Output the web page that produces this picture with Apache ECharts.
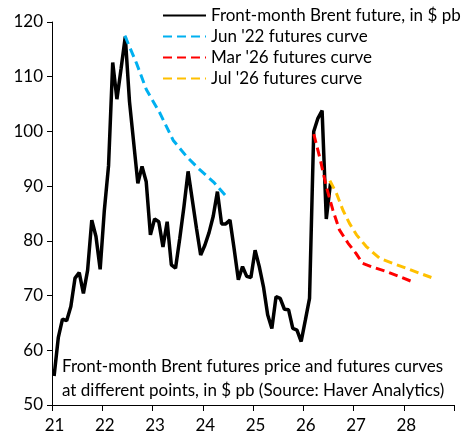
<!DOCTYPE html>
<html>
<head>
<meta charset="utf-8">
<script src="https://cdn.jsdelivr.net/npm/echarts@6/dist/echarts.min.js"></script>
<style>
  html, body { margin: 0; padding: 0; background: #fff; }
  #main { width: 470px; height: 440px; }
</style>
</head>
<body>
<div id="main"></div>
<script>
// front-month Brent, monthly averages Jan 2021 .. Jul 2026 ($ pb)
const brentStart = 2021
const brent = [
  55.3, 62.3, 65.7, 65.4, 68.0, 73.2, 74.2, 70.4, 74.6, 83.8, 80.8, 74.8,
  85.6, 93.7, 112.6, 105.9, 111.5, 117.3, 105.5, 98.0, 90.5, 93.6, 90.8, 81.1,
  84.0, 83.5, 78.9, 83.5, 75.6, 75.0, 80.4, 86.2, 92.7, 87.5, 82.3, 77.4,
  79.2, 81.5, 84.5, 89.0, 83.1, 83.1, 83.8, 78.5, 72.9, 75.3, 73.5, 73.3,
  78.3, 75.3, 71.6, 66.5, 64.0, 69.8, 69.5, 67.5, 67.4, 64.0, 63.7, 61.6,
  65.5, 69.5, 100.0, 102.4, 103.8, 84.0, 90.5
]

// futures curves: contract date (years, 21 = 2021) and price
const jun22X = [22.45, 22.68, 22.88, 23.15, 23.41, 23.68, 23.94, 24.21, 24.47]
const jun22Y = [117.5, 112.5, 107.6, 103.3, 98.4, 95.4, 93.0, 90.8, 88.1]

const mar26X = [26.21, 26.34, 26.46, 26.59, 26.72, 26.89, 27.05, 27.18, 27.38, 27.65, 27.91, 28.18]
const mar26Y = [99.5, 94.8, 89.9, 85.6, 82.0, 79.6, 77.7, 75.9, 75.2, 74.4, 73.5, 72.5]

const jul26X = [26.53, 26.66, 26.79, 26.92, 27.06, 27.25, 27.52, 27.78, 28.05, 28.31, 28.55]
const jul26Y = [91.0, 88.7, 85.6, 83.2, 81.1, 79.0, 76.8, 75.9, 75.0, 74.1, 73.3]

const names = [
  'Front-month Brent future, in $ pb',
  "Jun '22 futures curve",
  "Mar '26 futures curve",
  "Jul '26 futures curve"
]
const note = 'Front-month Brent futures price and futures curves\nat different points, in $ pb (Source: Haver Analytics)'

const pair = (xs, ys) => xs.map((x, i) => [x, ys[i]])
const brentData = brent.map((v, i) => [brentStart - 2000 + (i + 0.5) / 12, v])

const font = 'Lato'
const myChart = echarts.init(document.getElementById('main'))

const dashed = (name, color, data) => ({
  name: name,
  type: 'line',
  data: data,
  symbol: 'none',
  lineStyle: { color: color, width: 3, type: [9, 5] },
  itemStyle: { color: color },
  z: 3
})

const option = {
  animation: false,
  backgroundColor: '#fff',
  textStyle: { fontFamily: font },
  title: {
    text: note,
    left: 62,
    top: 355,
    padding: 0,
    textStyle: { fontFamily: font, fontSize: 17, fontWeight: 'normal', color: '#000', lineHeight: 24 }
  },
  legend: {
    orient: 'vertical',
    left: 162,
    top: 5,
    padding: 0,
    itemWidth: 43,
    itemHeight: 14,
    itemGap: 0,
    itemStyle: { opacity: 0 },
    data: names,
    textStyle: { fontFamily: font, fontSize: 17, color: '#000', lineHeight: 21 }
  },
  grid: { left: 52, right: 16, top: 22, bottom: 35, containLabel: false },
  xAxis: {
    type: 'value',
    min: 21,
    max: 29,
    interval: 1,
    axisLine: { lineStyle: { color: '#000', width: 1 } },
    axisTick: { length: 6, lineStyle: { color: '#000' } },
    axisLabel: {
      color: '#000',
      fontSize: 17,
      fontFamily: font,
      margin: 12,
      padding: [0, 0, 0, 5],
      formatter: v => (v === 29 ? '' : String(v))
    },
    splitLine: { show: false }
  },
  yAxis: {
    type: 'value',
    min: 50,
    max: 120,
    interval: 10,
    axisLine: { show: true, lineStyle: { color: '#000', width: 1 } },
    axisTick: { show: true, length: 5, lineStyle: { color: '#000' } },
    axisLabel: { color: '#000', fontSize: 17, fontFamily: font, margin: 9 },
    splitLine: { show: false }
  },
  series: [
    {
      name: names[0],
      type: 'line',
      data: brentData,
      symbol: 'none',
      lineStyle: { color: '#000', width: 3.5 },
      itemStyle: { color: '#000' },
      z: 2
    },
    dashed(names[1], '#00B0F0', pair(jun22X, jun22Y)),
    dashed(names[2], '#FF0000', pair(mar26X, mar26Y)),
    dashed(names[3], '#FFC000', pair(jul26X, jul26Y))
  ]
}

myChart.setOption(option)
</script>
</body>
</html>
